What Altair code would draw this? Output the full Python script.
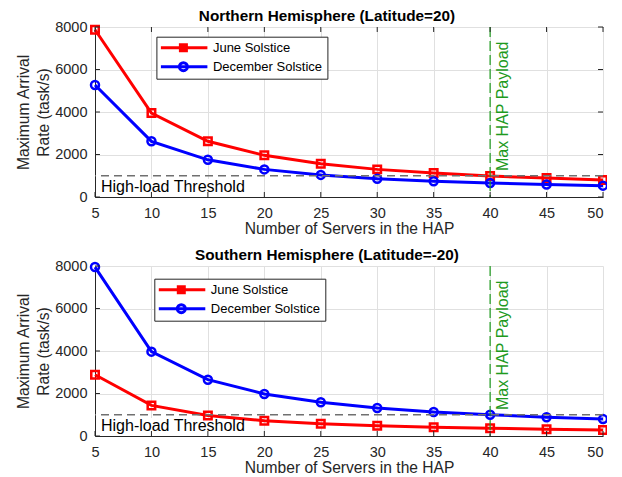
import altair as alt
import pandas as pd

# ---------------- data ----------------
servers = [5, 10, 15, 20, 25, 30, 35, 40, 45, 50]
series_names = ["June Solstice", "December Solstice"]

north_june = [7870, 3950, 2620, 1960, 1560, 1300, 1130, 985, 895, 795]
north_dec = [5270, 2620, 1750, 1300, 1040, 860, 740, 660, 590, 535]
south_june = [2880, 1440, 960, 720, 575, 480, 410, 365, 320, 285]
south_dec = [7950, 3970, 2650, 1980, 1590, 1320, 1130, 1000, 885, 795]

x_ticks = [5, 10, 15, 20, 25, 30, 35, 40, 45, 50]
y_ticks = [0, 2000, 4000, 6000, 8000]

threshold = 1000
max_payload = 40

panel_titles = ["Northern Hemisphere (Latitude=20)", "Southern Hemisphere (Latitude=-20)"]
x_title = "Number of Servers in the HAP"
y_title = ["Maximum Arrival", "Rate (task/s)"]
threshold_label = "High-load Threshold"
payload_label = "Max HAP Payload"

# ---------------- style ----------------
FONT = "Liberation Sans"
RED = "#FF0000"
BLUE = "#0000FF"
GREEN = "#1E9A1E"
AXIS = "#262626"
GRID = "#E0E0E0"
W, H = 508, 170

PAYLOAD_LABEL_Y = 1220
BOX_X2 = 18.6
BOX_Y2 = 850
TICK_LEN_Y = 235
TICK_LEN_X = 0.44

LEG_SQUARE = "M-4.8,0L4.8,0M-0.6,-0.6L0.6,-0.6L0.6,0.6L-0.6,0.6Z"
LEG_CIRCLE = "M-4.8,0L4.8,0M0.8,0A0.8,0.8,0,1,1,-0.8,0A0.8,0.8,0,1,1,0.8,0Z"


def make_panel(title, june, dec, boxed, lx, ly):
    n = len(servers)
    df = pd.DataFrame({
        "servers": servers + servers,
        "rate": june + dec,
        "series": [series_names[0]] * n + [series_names[1]] * n,
    })
    xs = alt.Scale(domain=[x_ticks[0], x_ticks[-1]], nice=False, zero=False)
    ys = alt.Scale(domain=[y_ticks[0], y_ticks[-1]], nice=False)
    xenc = alt.X("servers:Q", scale=xs, axis=alt.Axis(
        values=x_ticks, title=x_title,
        labelAlign=alt.ExprRef(expr="datum.value == %d ? 'right' : 'center'" % x_ticks[-1]),
    ))
    yenc = alt.Y("rate:Q", scale=ys, axis=alt.Axis(values=y_ticks, title=y_title, format="d"))
    cscale = alt.Scale(domain=series_names, range=[RED, BLUE])
    base = alt.Chart(df)

    leg = alt.Legend(
        orient="none", legendX=lx, legendY=ly, title=None, direction="vertical",
        labelFont=FONT, labelFontSize=13, labelColor="black",
        strokeColor=AXIS, fillColor="white", padding=4.5, rowPadding=5,
        symbolOffset=16, labelOffset=23, symbolStrokeWidth=3, symbolSize=100,
        clipHeight=13,
    )

    legend_layer = base.transform_filter("false").mark_point(
        filled=False, size=100, strokeWidth=3, opacity=1
    ).encode(
        x=xenc, y=yenc,
        color=alt.Color("series:N", scale=cscale, legend=leg),
        shape=alt.Shape("series:N", scale=alt.Scale(domain=series_names, range=[LEG_SQUARE, LEG_CIRCLE]), legend=leg),
    )

    box = alt.Chart(pd.DataFrame({"a": [0]})).mark_rect(color="white").encode(
        x=alt.datum(5.1), x2=alt.datum(BOX_X2), y=alt.datum(0), y2=alt.datum(BOX_Y2)
    )

    lines = base.mark_line(strokeWidth=3).encode(
        x="servers:Q", y="rate:Q", color=alt.Color("series:N", scale=cscale)
    )
    squares = base.transform_filter(alt.datum.series == series_names[0]).mark_point(
        shape="square", filled=False, size=56, strokeWidth=2.5, opacity=1
    ).encode(x="servers:Q", y="rate:Q", color=alt.Color("series:N", scale=cscale))
    circles = base.transform_filter(alt.datum.series == series_names[1]).mark_point(
        shape="circle", filled=False, size=64, strokeWidth=2.5, opacity=1
    ).encode(x="servers:Q", y="rate:Q", color=alt.Color("series:N", scale=cscale))

    thr = alt.Chart(pd.DataFrame({"a": [0]})).mark_rule(
        color="#707070", strokeWidth=1.5, strokeDash=[8, 5]
    ).encode(y=alt.datum(threshold))
    pay = alt.Chart(pd.DataFrame({"a": [0]})).mark_rule(
        color=GREEN, strokeWidth=1.2, strokeDash=[10, 4]
    ).encode(x=alt.datum(max_payload))

    thr_text = alt.Chart(pd.DataFrame({"a": [0]})).mark_text(
        text=threshold_label, align="left", baseline="alphabetic", font=FONT,
        fontSize=16, color="black", dx=6, dy=-5
    ).encode(x=alt.datum(x_ticks[0]), y=alt.datum(0))
    pay_text = alt.Chart(pd.DataFrame({"a": [0]})).mark_text(
        text=payload_label, align="left", baseline="top", angle=270, font=FONT,
        fontSize=16, color=GREEN, dy=5
    ).encode(x=alt.datum(max_payload), y=alt.datum(PAYLOAD_LABEL_Y))

    tdf = pd.DataFrame({"v": x_ticks})
    ydf = pd.DataFrame({"v": y_ticks})
    tick_layers = [
        alt.Chart(tdf).mark_rule(color=AXIS, strokeWidth=1).encode(
            x="v:Q", y=alt.datum(0), y2=alt.datum(TICK_LEN_Y)),
        alt.Chart(ydf).mark_rule(color=AXIS, strokeWidth=1).encode(
            y="v:Q", x=alt.datum(x_ticks[0]), x2=alt.datum(x_ticks[0] + TICK_LEN_X)),
    ]
    if boxed:
        tick_layers += [
            alt.Chart(tdf).mark_rule(color=AXIS, strokeWidth=1).encode(
                x="v:Q", y=alt.datum(y_ticks[-1]), y2=alt.datum(y_ticks[-1] - TICK_LEN_Y)),
            alt.Chart(ydf).mark_rule(color=AXIS, strokeWidth=1).encode(
                y="v:Q", x=alt.datum(x_ticks[-1]), x2=alt.datum(x_ticks[-1] - TICK_LEN_X)),
        ]

    layer = alt.layer(
        legend_layer, box, lines, squares, circles, thr, pay, thr_text, pay_text, *tick_layers
    ).properties(
        width=W, height=H,
        title=alt.TitleParams(
            text=title, font=FONT, fontSize=15.3, fontWeight="bold", color="black",
            anchor="middle", dx=-22, offset=-5
        ),
        view=alt.ViewBackground(stroke=AXIS if boxed else "transparent", strokeWidth=1),
    )
    return layer


top = make_panel(panel_titles[0], north_june, north_dec, True, 61.4, 9.7)
bottom = make_panel(panel_titles[1], south_june, south_dec, False, 59.3, 12.7)

chart = alt.vconcat(top, bottom, spacing=69, bounds="flush").resolve_scale(
    color="independent", shape="independent"
).resolve_legend(color="independent", shape="independent").properties(
    padding={"left": 8, "top": 0, "right": -6, "bottom": 0},
).configure_axis(
    labelFont=FONT, labelFontSize=14.5, labelColor=AXIS,
    titleFont=FONT, titleFontSize=15.6, titleFontWeight="normal", titleColor=AXIS,
    domainColor=AXIS, domainWidth=1, gridColor=GRID, gridWidth=1,
    ticks=False, tickSize=0,
).configure_axisX(
    labelPadding=9, titlePadding=2
).configure_axisY(
    labelPadding=8, titlePadding=3, titleLineHeight=20
).configure_view(stroke="transparent")

chart.save("out.html", embed_options={"renderer": "svg", "actions": False})
